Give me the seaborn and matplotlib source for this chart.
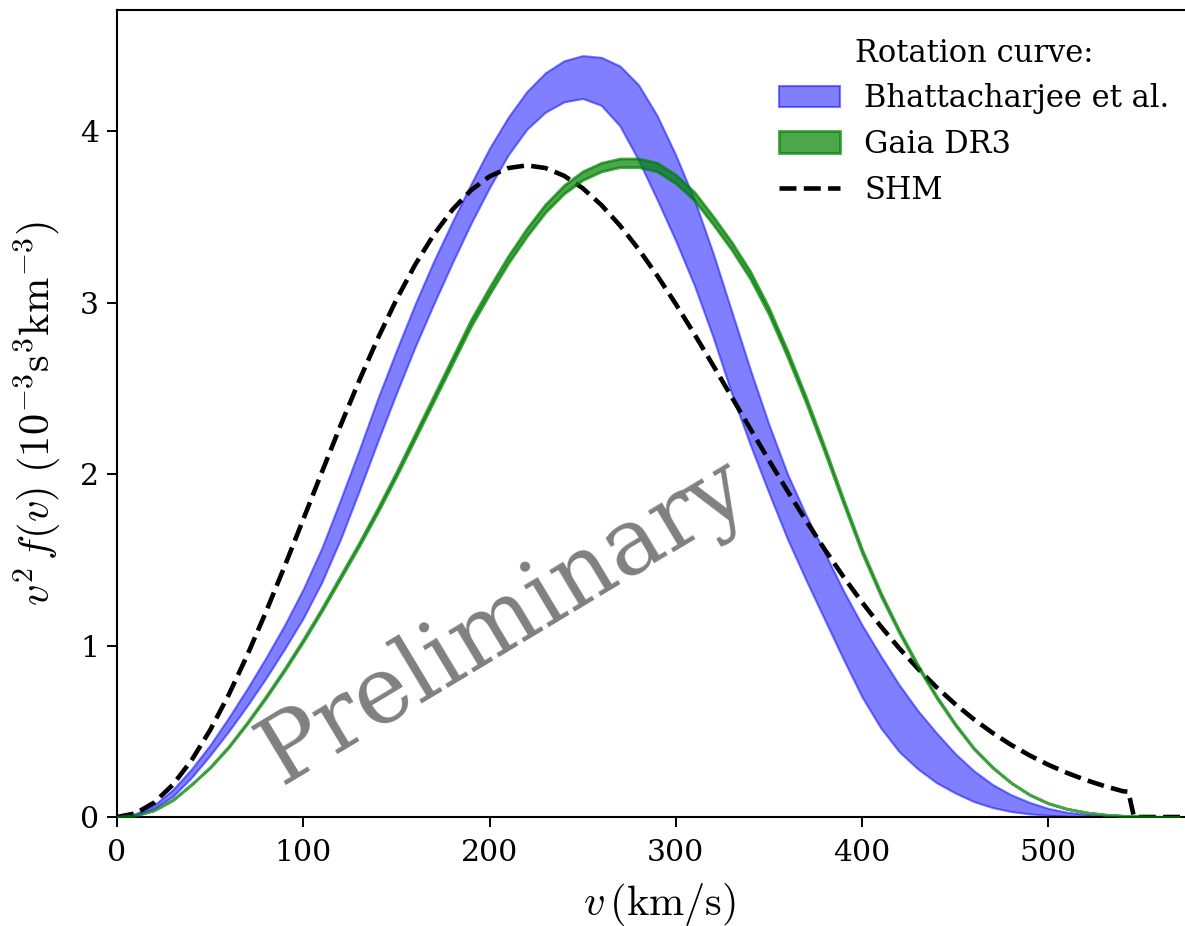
import matplotlib
matplotlib.use("Agg")
import matplotlib.pyplot as plt
import seaborn as sns
import pandas as pd

# ---------------- data ----------------
v_grid = list(range(0, 580, 10))  # km/s, 0 ... 570

bhat_upper = [0, 0.02, 0.07, 0.16, 0.28, 0.42, 0.58, 0.75, 0.93, 1.12,
              1.33, 1.57, 1.85, 2.14, 2.44, 2.72, 2.99, 3.24, 3.47, 3.69,
              3.90, 4.08, 4.23, 4.34, 4.41, 4.44, 4.43, 4.38, 4.27, 4.09,
              3.86, 3.60, 3.29, 2.95, 2.61, 2.29, 2.00, 1.76, 1.54, 1.32,
              1.12, 0.94, 0.77, 0.62, 0.49, 0.37, 0.27, 0.19, 0.13, 0.085,
              0.05, 0.028, 0.015, 0.008, 0.004, 0.002, 0.001, 0]
bhat_lower = [0, 0.01, 0.05, 0.12, 0.23, 0.36, 0.50, 0.65, 0.81, 0.98,
              1.16, 1.37, 1.62, 1.90, 2.19, 2.47, 2.74, 2.99, 3.23, 3.46,
              3.67, 3.86, 4.01, 4.11, 4.17, 4.19, 4.15, 4.03, 3.83, 3.60,
              3.36, 3.10, 2.80, 2.47, 2.17, 1.89, 1.62, 1.38, 1.15, 0.92,
              0.70, 0.52, 0.38, 0.28, 0.20, 0.14, 0.09, 0.055, 0.032, 0.018,
              0.01, 0.005, 0.002, 0.001, 0, 0, 0, 0]

gaia_upper = [0, 0.010, 0.040, 0.101, 0.191, 0.292, 0.413, 0.554, 0.705, 0.866,
              1.037, 1.218, 1.409, 1.600, 1.802, 2.013, 2.235, 2.456, 2.678, 2.899,
              3.090, 3.271, 3.432, 3.573, 3.684, 3.765, 3.815, 3.840, 3.840, 3.815,
              3.745, 3.644, 3.503, 3.352, 3.181, 2.969, 2.718, 2.446, 2.154, 1.852,
              1.560, 1.309, 1.087, 0.886, 0.705, 0.544, 0.403, 0.292, 0.201, 0.131,
              0.081, 0.048, 0.027, 0.014, 0.007, 0.003, 0.001, 0]
gaia_lower = [0, 0.010, 0.040, 0.099, 0.189, 0.288, 0.407, 0.546, 0.695, 0.854,
              1.023, 1.202, 1.391, 1.580, 1.778, 1.987, 2.205, 2.424, 2.642, 2.861,
              3.050, 3.229, 3.387, 3.527, 3.636, 3.715, 3.765, 3.790, 3.790, 3.765,
              3.695, 3.596, 3.457, 3.308, 3.139, 2.931, 2.682, 2.414, 2.126, 1.828,
              1.540, 1.291, 1.073, 0.874, 0.695, 0.536, 0.397, 0.288, 0.199, 0.129,
              0.079, 0.048, 0.027, 0.014, 0.007, 0.003, 0.001, 0]

shm_v = list(range(0, 550, 10)) + [543, 546, 575]
shm_f = [0, 0.0213, 0.0847, 0.1885, 0.3304, 0.5067, 0.7132, 0.9451, 1.1967, 1.4623,
         1.7358, 2.0111, 2.2824, 2.5438, 2.7901, 3.0167, 3.2194, 3.3947, 3.5405, 3.6545,
         3.7356, 3.7841, 3.8000, 3.7846, 3.7395, 3.6670, 3.5694, 3.4500, 3.3118, 3.1579,
         2.9916, 2.8163, 2.6346, 2.4496, 2.2642, 2.0806, 1.9010, 1.7268, 1.5600, 1.4014,
         1.2523, 1.1129, 0.9836, 0.8651, 0.7568, 0.6587, 0.5702, 0.4912, 0.4209, 0.3591,
         0.3046, 0.2573, 0.2163, 0.1808, 0.1505, 0.147, 0.0, 0.0]

x_ticks = [0, 100, 200, 300, 400, 500]
y_ticks = [0, 1, 2, 3, 4]
labels = ["Bhattacharjee et al.", "Gaia DR3", "SHM"]

# ---------------- style ----------------
sns.set_style("ticks")
plt.rcParams["font.family"] = ["DejaVu Serif"]
plt.rcParams["mathtext.fontset"] = "cm"
for key in ["text.color", "axes.labelcolor", "xtick.color", "ytick.color",
            "axes.edgecolor"]:
    plt.rcParams[key] = "black"

fig = plt.figure(figsize=(11.85, 9.26), dpi=100)
ax = fig.add_axes([117 / 1185, 109 / 926, 1068 / 1185, 807 / 926])

band_df = pd.DataFrame({"v": v_grid, "bu": bhat_upper, "bl": bhat_lower,
                        "gu": gaia_upper, "gl": gaia_lower})
shm_df = pd.DataFrame({"v": shm_v, "f": shm_f})

h_b = ax.fill_between(band_df["v"], band_df["bl"], band_df["bu"],
                      color="blue", alpha=0.5, lw=1.5, zorder=2)
sns.lineplot(data=shm_df, x="v", y="f", ax=ax, color="black", lw=3.3,
             linestyle="--", sort=False, zorder=3, legend=False)
h_s = ax.lines[-1]
h_g = ax.fill_between(band_df["v"], band_df["gl"], band_df["gu"],
                      color="green", alpha=0.7, lw=2.0, zorder=4)

ax.set_xlim(0, 573.4)
ax.set_ylim(0, 4.706)
ax.set_xticks(x_ticks)
ax.set_yticks(y_ticks)
ax.tick_params(axis="both", labelsize=21.5, length=7, width=1.4,
               direction="out", colors="black")
ax.tick_params(axis="x", pad=9)
ax.tick_params(axis="y", pad=6)
for s in ["left", "bottom", "top"]:
    ax.spines[s].set_linewidth(1.5)
    ax.spines[s].set_color("black")
ax.spines["right"].set_visible(False)

ax.set_xlabel(r"$v\,(\mathrm{km/s})$", fontsize=30.5)
ax.xaxis.set_label_coords(0.5075, -0.079)
ax.set_ylabel(r"$v^2\,f(v)\ (10^{-3}\mathrm{s}^3\mathrm{km}^{-3})$",
              fontsize=30.5, labelpad=12)

leg = ax.legend([h_b, h_g, h_s], labels, title="Rotation curve:",
                loc="upper right", bbox_to_anchor=(0.997, 0.981),
                borderaxespad=0.0, frameon=False, fontsize=22,
                title_fontsize=22, labelspacing=0.48)

ax.text(208, 1.14, "Preliminary", rotation=31, fontsize=67, color="gray",
        ha="center", va="center", zorder=5)

fig.savefig("out.png", dpi=100)
